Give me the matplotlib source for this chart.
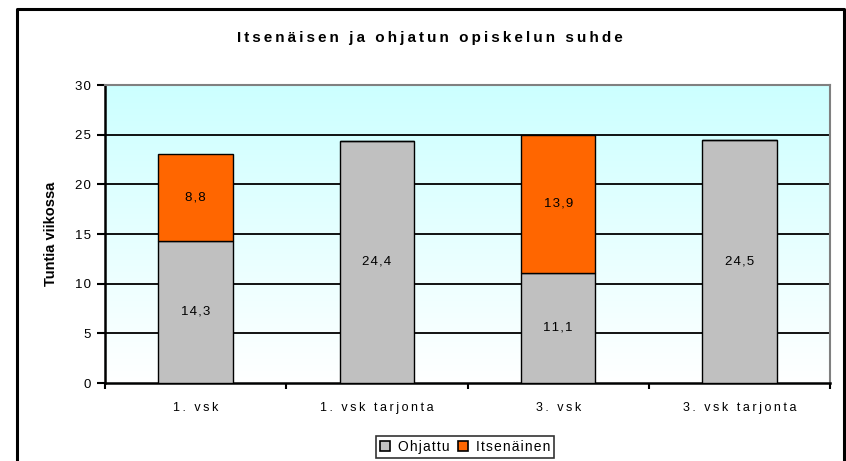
import numpy as np
import matplotlib.pyplot as plt
from matplotlib.lines import Line2D
from matplotlib.patches import Patch

plt.rcParams['font.family'] = ['Liberation Sans', 'DejaVu Sans']

# data
categories = ['1. vsk', '1. vsk tarjonta', '3. vsk', '3. vsk tarjonta']
ohjattu = [14.3, 24.4, 11.1, 24.5]
itsenainen = [8.8, 0, 13.9, 0]
series_names = ['Ohjattu', 'Itsenäinen']


def spaced(s, sp='\u2009'):
    # fake the wide letter spacing of the original
    return sp.join(s)


def fmt(v):
    return ('%.1f' % v).replace('.', ',')


W, H = 846, 461
fig = plt.figure(figsize=(W / 100, H / 100), dpi=100)
ax = fig.add_axes([105 / W, (H - 383) / H, 725 / W, 298 / H])

# gradient background, light cyan at the top to white at the bottom
grad = np.linspace(0, 1, 256).reshape(-1, 1)
top = np.array([0xCC, 0xFF, 0xFF]) / 255
bottom = np.array([1.0, 1.0, 1.0])
img = bottom + (top - bottom) * grad[:, :, None] * np.ones((1, 1, 3))
ax.imshow(img, aspect='auto', extent=[-0.5, 3.5, 0, 30], origin='lower', zorder=0)

ind = np.arange(len(categories))
width = 0.41
ax.bar(ind, ohjattu, width, color='#C0C0C0', edgecolor='black', linewidth=1, zorder=3)
ax.bar(ind, itsenainen, width, bottom=ohjattu, color='#FF6600', edgecolor='black',
       linewidth=1, zorder=3)

# value labels in the middle of each segment
for i in ind:
    ax.text(i, ohjattu[i] / 2, spaced(fmt(ohjattu[i]), '\u200a'), ha='center', va='center',
            fontsize=9.5, zorder=4)
    if itsenainen[i] > 0:
        ax.text(i, ohjattu[i] + itsenainen[i] / 2, spaced(fmt(itsenainen[i]), '\u200a'),
                ha='center', va='center', fontsize=9.5, zorder=4)

ax.set_xlim(-0.5, 3.5)
ax.set_ylim(0, 30)

# horizontal gridlines
for yv in [5, 10, 15, 20, 25]:
    ax.axhline(yv, color='black', lw=1.3, zorder=1)

ax.set_yticks(np.arange(0, 31, 5))
ax.set_yticklabels([spaced(str(v), '\u200a') for v in range(0, 31, 5)], fontsize=9.5)
ax.set_xticks(ind)
ax.set_xticklabels([spaced(c) for c in categories], fontsize=9)
ax.tick_params(axis='x', length=0, pad=14)
ax.tick_params(axis='y', length=6, width=1.5, direction='out', pad=4)
# category boundary ticks on x axis
ax.set_xticks(np.arange(-0.5, 3.6, 1), minor=True)
ax.tick_params(axis='x', which='minor', length=4, width=1.5, direction='out')

ax.spines['left'].set_linewidth(1.8)
ax.spines['bottom'].set_linewidth(1.8)
ax.spines['top'].set_color('#808080')
ax.spines['right'].set_color('#808080')
ax.spines['top'].set_linewidth(1.5)
ax.spines['right'].set_linewidth(1.5)

ax.set_ylabel('Tuntia viikossa', fontsize=10.5, fontweight='bold')
ax.yaxis.set_label_coords((58 - 105) / 725, 0.5)

fig.text(430 / W, 1 - 38 / H, spaced('Itsenäisen ja ohjatun opiskelun suhde'),
         ha='center', va='center', fontsize=11, fontweight='bold')

# outer chart frame
fx0, fx1, fy0 = 17 / W, 844 / W, 1 - 9 / H
fig.add_artist(Line2D([fx0, fx0, fx1, fx1], [-0.1, fy0, fy0, -0.1], color='black', lw=2.2,
                      transform=fig.transFigure))

handles = [Patch(facecolor='#C0C0C0', edgecolor='black', linewidth=1.2),
           Patch(facecolor='#FF6600', edgecolor='black', linewidth=1.2)]
leg = fig.legend(handles, [spaced(n, '\u200a') for n in series_names], loc='center',
                 bbox_to_anchor=(465 / W, 1 - 447 / H),
                 ncol=2, fontsize=10, frameon=True, fancybox=False, edgecolor='black',
                 handlelength=0.7, handleheight=0.7, handletextpad=0.6, columnspacing=0.6,
                 borderpad=0.3, borderaxespad=0)
leg.get_frame().set_linewidth(1.2)

fig.savefig('out.png', dpi=100)
